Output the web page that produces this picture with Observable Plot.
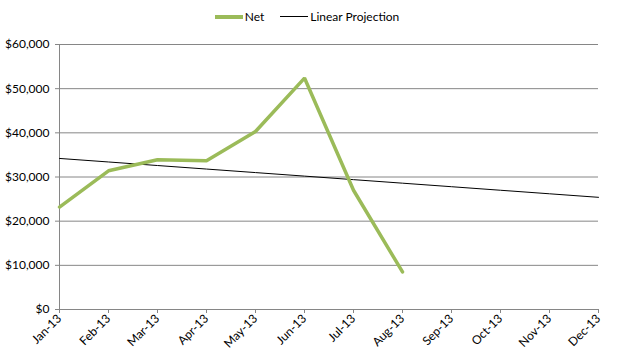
<!DOCTYPE html>
<html><head><meta charset="utf-8">
<script src="https://cdn.jsdelivr.net/npm/d3@7"></script>
<script src="https://cdn.jsdelivr.net/npm/@observablehq/plot@0.6"></script>
<style>
html,body{margin:0;padding:0;background:#fff;}
#wrap{position:relative;width:618px;height:358px;font-family:Lato,"Open Sans",sans-serif;}
#legend{position:absolute;top:9px;left:0;width:618px;display:flex;justify-content:center;align-items:center;font-size:12px;color:#000;}
.sw{display:inline-block;width:28px;margin-right:2px;}
.item{display:flex;align-items:center;}
</style>
</head><body>
<div id="wrap">
<div id="legend">
  <span class="item" style="margin-left:-4px"><span class="sw" style="border-top:4px solid #9BBB59"></span>Net</span>
  <span class="item" style="margin-left:16px"><span class="sw" style="border-top:1px solid #000"></span>Linear Projection</span>
</div>
<div id="chart"></div>
</div>
<script>
const months = ["Jan-13","Feb-13","Mar-13","Apr-13","May-13","Jun-13","Jul-13","Aug-13","Sep-13","Oct-13","Nov-13","Dec-13"];
const netMonths = ["Jan-13","Feb-13","Mar-13","Apr-13","May-13","Jun-13","Jul-13","Aug-13"];
const netValues = [23200, 31400, 33900, 33700, 40300, 52400, 27000, 8500];
const projValues = [34200, 33400, 32600, 31800, 31000, 30200, 29400, 28600, 27800, 27000, 26200, 25400];
const yTicks = [0, 10000, 20000, 30000, 40000, 50000, 60000];

const net = netMonths.map((m, i) => ({month: m, value: netValues[i]}));
const proj = months.map((m, i) => ({month: m, value: projValues[i]}));

const fmt = d => "$" + d3.format(",")(d);

const chart = Plot.plot({
  width: 618,
  height: 358,
  marginTop: 44,
  marginBottom: 49,
  marginLeft: 59,
  marginRight: 20,
  style: {fontFamily: "Lato, 'Open Sans', sans-serif", fontSize: "12px", color: "#000", background: "transparent"},
  x: {type: "point", domain: months, padding: 0},
  y: {domain: [0, 60000]},
  marks: [
    Plot.gridY(yTicks, {stroke: "#868686", strokeOpacity: 1}),
    Plot.frame({anchor: "left", stroke: "#868686"}),
    Plot.axisY(yTicks, {tickFormat: fmt, tickSize: 4, stroke: "#868686", tickPadding: 6, fill: "#000", label: null}),
    Plot.axisX({tickRotate: -45, tickSize: 4, stroke: "#868686", tickPadding: 3, fill: "#000", label: null}),
    Plot.line(proj, {x: "month", y: "value", stroke: "#000", strokeWidth: 1}),
    Plot.line(net, {x: "month", y: "value", stroke: "#9BBB59", strokeWidth: 3.5, strokeLinejoin: "miter"})
  ]
});
document.getElementById("chart").appendChild(chart);
</script>
</body></html>
